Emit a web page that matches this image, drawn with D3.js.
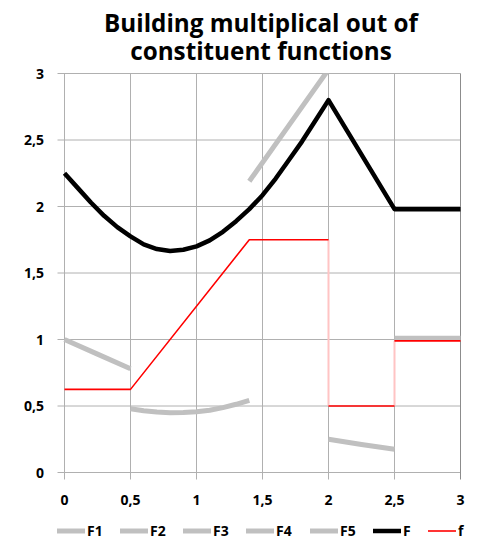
<!DOCTYPE html>
<html><head><meta charset="utf-8">
<script src="https://cdn.jsdelivr.net/npm/d3@7"></script>
<style>html,body{margin:0;padding:0;background:#fff;}svg{display:block;}</style>
</head><body>
<svg id="c" width="479" height="537"></svg>
<script>
const titleLines = ["Building multiplical out of", "constituent functions"];
const xTicks = [0, 0.5, 1, 1.5, 2, 2.5, 3];
const yTicks = [0, 0.5, 1, 1.5, 2, 2.5, 3];
const tickLabel = v => String(v).replace(".", ",");

const F1 = [[0,1.0],[0.25,0.89],[0.5,0.78]];
const F2 = [[0.5,0.48],[0.6,0.465],[0.7,0.455],[0.8,0.45],[0.9,0.451],[1.0,0.456],[1.1,0.468],[1.2,0.488],[1.3,0.513],[1.4,0.543]];
const F3 = [[1.4,2.19],[1.7,2.61],[2.0,3.03]];
const F4 = [[2.0,0.25],[2.25,0.21],[2.5,0.175]];
const F5 = [[2.5,1.01],[3.0,1.01]];
const F  = [[0,2.25],[0.1,2.14],[0.2,2.03],[0.3,1.93],[0.4,1.845],[0.5,1.775],[0.6,1.715],[0.7,1.68],[0.8,1.665],[0.9,1.675],[1.0,1.70],[1.1,1.745],[1.2,1.81],[1.3,1.89],[1.4,1.98],[1.5,2.085],[1.6,2.21],[1.7,2.35],[1.8,2.49],[1.9,2.645],[2.0,2.80],[2.25,2.39],[2.5,1.98],[3.0,1.98]];
const fSolid = [[[0,0.625],[0.5,0.625],[1.4,1.75],[2.0,1.75]], [[2.0,0.5],[2.5,0.5]], [[2.5,0.99],[3.0,0.99]]];
const fJumps = [[[2.0,1.75],[2.0,0.5]], [[2.5,0.5],[2.5,0.99]]];
const legendNames = ["F1","F2","F3","F4","F5","F","f"];

const svg = d3.select("#c");
const x = d3.scaleLinear().domain([0,3]).range([64.5, 460.5]);
const y = d3.scaleLinear().domain([0,3]).range([472.5, 73.5]);
const gridColor = "#b0b0b0";
const font = "'Open Sans', 'Liberation Sans', sans-serif";

svg.append("defs").append("clipPath").attr("id","clip")
  .append("rect").attr("x", x(0)-3).attr("y", y(3)).attr("width", x(3)-x(0)+6).attr("height", y(0)-y(3));

// grid
const g = svg.append("g");
g.selectAll("line.h").data(yTicks).join("line")
  .attr("x1", x(0)-7).attr("x2", x(3)).attr("y1", d=>y(d)).attr("y2", d=>y(d))
  .attr("stroke", gridColor).attr("stroke-width", 1);
g.selectAll("line.v").data(xTicks).join("line")
  .attr("x1", d=>x(d)).attr("x2", d=>x(d)).attr("y1", y(3)).attr("y2", y(0)+7)
  .attr("stroke", (d,i)=> i===xTicks.length-1 ? "#8c8c8c" : gridColor).attr("stroke-width", 1);

// tick labels
svg.append("g").selectAll("text").data(yTicks).join("text")
  .attr("x", 44).attr("y", d=>y(d)+5).attr("text-anchor","end")
  .attr("font-family", font).attr("font-weight","bold").attr("font-size", 14).attr("fill","#000")
  .text(tickLabel);
svg.append("g").selectAll("text").data(xTicks).join("text")
  .attr("x", d=>x(d)).attr("y", 505).attr("text-anchor","middle")
  .attr("font-family", font).attr("font-weight","bold").attr("font-size", 14).attr("fill","#000")
  .text(tickLabel);

// lines
const line = d3.line().x(d=>x(d[0])).y(d=>y(d[1]));
const plot = svg.append("g").attr("clip-path","url(#clip)");
const grey = "#c0c0c0";
[F1,F2,F3,F4,F5].forEach(s => plot.append("path").attr("d", line(s)).attr("fill","none")
  .attr("stroke", grey).attr("stroke-width", 5).attr("stroke-linejoin","round"));
plot.append("path").attr("d", line(F)).attr("fill","none").attr("stroke","#000")
  .attr("stroke-width", 4.5).attr("stroke-linejoin","round");
fJumps.forEach(s => plot.append("path").attr("d", line(s)).attr("fill","none")
  .attr("stroke", "#ffc4c4").attr("stroke-width", 2));
fSolid.forEach(s => plot.append("path").attr("d", line(s)).attr("fill","none")
  .attr("stroke", "#ff0000").attr("stroke-width", 1.6).attr("stroke-linejoin","round"));

// title
const title = svg.append("g");
const tl = title.selectAll("text").data(titleLines).join("text")
  .attr("x", 261).attr("y", (d,i)=>32 + i*28).attr("text-anchor","middle")
  .attr("font-family", font).attr("font-weight","bold").attr("font-size", 24).attr("fill","#000")
  .text(d=>d);
const w0 = tl.node().getComputedTextLength();
tl.attr("font-size", 24*314/w0);

// legend
const legX = [57, 120, 183, 246, 310, 373, 428];
const legColor = [grey,grey,grey,grey,grey,"#000","#ff0000"];
const legW = [5,5,5,5,5,4.5,1.6];
const lg = svg.append("g").selectAll("g").data(legendNames).join("g")
  .attr("transform",(d,i)=>`translate(${legX[i]},531)`);
lg.append("line").attr("x1",0).attr("x2",28).attr("y1",0).attr("y2",0)
  .attr("stroke",(d,i)=>legColor[i]).attr("stroke-width",(d,i)=>legW[i]);
lg.append("text").attr("x",30).attr("y",5).attr("font-family",font).attr("font-weight","bold")
  .attr("font-size",14).attr("fill","#000").text(d=>d);
</script>
</body></html>
